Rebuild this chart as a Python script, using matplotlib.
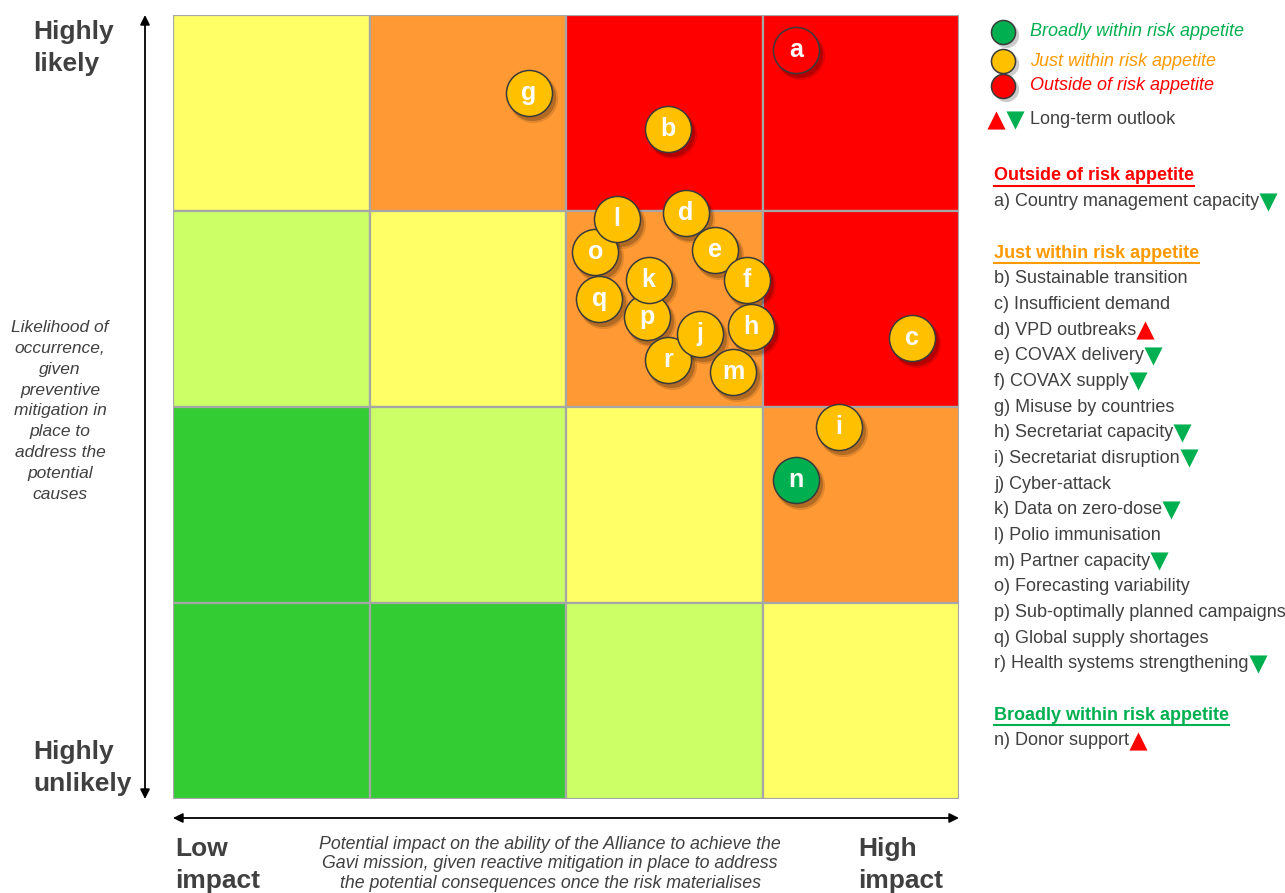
import matplotlib
matplotlib.use("Agg")
import matplotlib.pyplot as plt
from matplotlib.patches import Rectangle
from matplotlib.transforms import offset_copy

plt.rcParams['font.family'] = ['Liberation Sans', 'DejaVu Sans']

W, H = 1285, 893
GREEN, LGREEN, YELLOW, ORANGE, RED = '#33CC33', '#CCFF66', '#FFFF66', '#FF9933', '#FF0000'
DOT = {'out': '#FF0000', 'just': '#FFC000', 'broad': '#00B050'}
TXT = {'out': '#FF0000', 'just': '#FF9900', 'broad': '#00B050'}
GREY = '#404040'

# heat map colours, rows from top (highly likely) to bottom
cell_colors = [
    [YELLOW, ORANGE, RED, RED],
    [LGREEN, YELLOW, ORANGE, RED],
    [GREEN, LGREEN, YELLOW, ORANGE],
    [GREEN, GREEN, LGREEN, YELLOW],
]

# risks in drawing order (impact 0-4, likelihood 0-4)
labels = ['a', 'g', 'b', 'c', 'i', 'n', 'd', 'e', 'f', 'h', 'm', 'o', 'l', 'q', 'p', 'k', 'r', 'j']
impact = [3.17, 1.81, 2.52, 3.76, 3.39, 3.17, 2.61, 2.76, 2.92, 2.94, 2.85, 2.15, 2.26, 2.17, 2.41, 2.42, 2.52, 2.68]
likelihood = [3.82, 3.60, 3.42, 2.35, 1.90, 1.63, 2.99, 2.80, 2.65, 2.41, 2.18, 2.79, 2.96, 2.55, 2.46, 2.65, 2.24, 2.37]
status = ['out', 'just', 'just', 'just', 'just', 'broad', 'just', 'just', 'just', 'just', 'just',
          'just', 'just', 'just', 'just', 'just', 'just', 'just']

legend_labels = ['Broadly within risk appetite', 'Just within risk appetite', 'Outside of risk appetite']
legend_keys = ['broad', 'just', 'out']

# side list: (kind, text, outlook)
side_list = [
    ('head', 'Outside of risk appetite', 'out'),
    ('item', 'a) Country management capacity', 'down'),
    ('blank', '', None),
    ('head', 'Just within risk appetite', 'just'),
    ('item', 'b) Sustainable transition', None),
    ('item', 'c) Insufficient demand', None),
    ('item', 'd) VPD outbreaks', 'up'),
    ('item', 'e) COVAX delivery', 'down'),
    ('item', 'f) COVAX supply', 'down'),
    ('item', 'g) Misuse by countries', None),
    ('item', 'h) Secretariat capacity', 'down'),
    ('item', 'i) Secretariat disruption', 'down'),
    ('item', 'j) Cyber-attack', None),
    ('item', 'k) Data on zero-dose', 'down'),
    ('item', 'l) Polio immunisation', None),
    ('item', 'm) Partner capacity', 'down'),
    ('item', 'o) Forecasting variability', None),
    ('item', 'p) Sub-optimally planned campaigns', None),
    ('item', 'q) Global supply shortages', None),
    ('item', 'r) Health systems strengthening', 'down'),
    ('blank', '', None),
    ('head', 'Broadly within risk appetite', 'broad'),
    ('item', 'n) Donor support', 'up'),
]

fig = plt.figure(figsize=(W / 100, H / 100), dpi=100)
ax = fig.add_axes([173 / W, 1 - 799 / H, (959 - 173) / W, (799 - 15) / H])
ax.set_xlim(0, 4)
ax.set_ylim(0, 4)
ax.axis('off')

for r, row in enumerate(cell_colors):
    for c, col in enumerate(row):
        ax.add_patch(Rectangle((c, 3 - r), 1, 1, facecolor=col, edgecolor='#A6A6A6', lw=1.6, zorder=1))

# bubbles with soft shadow
sh1 = offset_copy(ax.transData, fig=fig, x=3, y=-4, units='dots')
sh2 = offset_copy(ax.transData, fig=fig, x=4, y=-5, units='dots')
for tr, s, a in [(sh2, 1250, 0.12), (sh1, 1150, 0.2)]:
    ax.scatter(impact, likelihood, s=s, color='black', alpha=a, lw=0, transform=tr, zorder=2)
for x, y, lab, st in zip(impact, likelihood, labels, status):
    ax.scatter([x], [y], s=1100, color=DOT[st], edgecolor='#3A3A3A', lw=1.1, zorder=3)
    ax.text(x, y, lab, color='white', fontsize=18, fontweight='bold', ha='center', va='center', zorder=4)

# overlay in pixel coordinates for annotations
ov = fig.add_axes([0, 0, 1, 1], zorder=5)
ov.set_xlim(0, W)
ov.set_ylim(H, 0)
ov.axis('off')
ov.patch.set_alpha(0)

arrow = dict(arrowstyle='<|-|>', color='black', lw=1.3, mutation_scale=14, shrinkA=0, shrinkB=0)
ov.annotate('', xy=(145, 15), xytext=(145, 799), arrowprops=arrow)
ov.annotate('', xy=(173, 818), xytext=(959, 818), arrowprops=arrow)

big = dict(fontsize=19, fontweight='bold', color=GREY, linespacing=1.38, ha='left')
ov.text(33, 48, 'Highly\nlikely', va='center', **big)
ov.text(33, 768, 'Highly\nunlikely', va='center', **big)
ov.text(175, 865, 'Low\nimpact', va='center', **big)
ov.text(858, 865, 'High\nimpact', va='center', **big)

ov.text(60, 411, 'Likelihood of\noccurrence,\ngiven\npreventive\nmitigation in\nplace to\naddress the\npotential\ncauses',
        fontsize=12.5, style='italic', color=GREY, ha='center', va='center', linespacing=1.48)
ov.text(550, 864, 'Potential impact on the ability of the Alliance to achieve the\n'
        'Gavi mission, given reactive mitigation in place to address\n'
        'the potential consequences once the risk materialises',
        fontsize=12.8, style='italic', color=GREY, ha='center', va='center', linespacing=1.19)

# legend
leg_y = [32, 61, 86]
ov.scatter([1006] * 3, [y + 3 for y in leg_y], s=330, color='black', alpha=0.2, lw=0)
for y, lab, k in zip(leg_y, legend_labels, legend_keys):
    ov.scatter([1003], [y], s=300, color=DOT[k], edgecolor='#3A3A3A', lw=1.1)
    ov.text(1030, y, lab, fontsize=13, style='italic', color=TXT[k], va='center', ha='left')
ov.scatter([996], [120], marker='^', s=170, color='#FF0000', lw=0)
ov.scatter([1015], [120], marker='v', s=170, color='#00B050', lw=0)
ov.text(1030, 119, 'Long-term outlook', fontsize=13, color=GREY, va='center', ha='left')

# side list
texts = []
for i, (kind, txt, extra) in enumerate(side_list):
    y = 176 + i * 25.68
    if kind == 'head':
        t = ov.text(994, y, txt, fontsize=13, fontweight='bold', color=TXT[extra], va='center', ha='left')
    elif kind == 'item':
        t = ov.text(994, y, txt, fontsize=13, color=GREY, va='center', ha='left')
    else:
        continue
    texts.append((kind, t, extra, y))

fig.canvas.draw()
rend = fig.canvas.get_renderer()
for kind, t, extra, y in texts:
    bb = t.get_window_extent(rend)
    if kind == 'head':
        yb = H - bb.y0 + 1
        ov.plot([bb.x0, bb.x1], [yb, yb], color=TXT[extra], lw=1.5)
    elif extra == 'down':
        ov.scatter([bb.x1 + 9], [y], marker='v', s=170, color='#00B050', lw=0)
    elif extra == 'up':
        ov.scatter([bb.x1 + 9], [y], marker='^', s=170, color='#FF0000', lw=0)

fig.savefig('out.png', dpi=100)
